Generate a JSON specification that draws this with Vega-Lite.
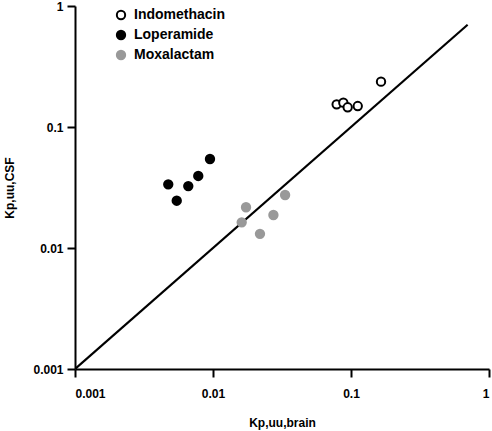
{
  "$schema": "https://vega.github.io/schema/vega-lite/v6.json",
  "width": 414,
  "height": 363,
  "autosize": "none",
  "padding": {"left": 75, "top": 6, "right": 3, "bottom": 62},
  "background": "white",
  "config": {
    "view": {"stroke": null},
    "font": "Liberation Sans",
    "axis": {
      "domainColor": "black", "domainWidth": 2, "tickColor": "black", "tickWidth": 2, "tickSize": 8,
      "labelFont": "Liberation Sans", "labelFontWeight": "bold", "labelFontSize": 12, "labelColor": "black",
      "titleFont": "Liberation Sans", "titleFontWeight": "bold", "titleFontSize": 12, "titleColor": "black",
      "grid": false
    }
  },
  "datasets": {
    "pts": [
      {"compound": "Indomethacin", "brain": 0.0787, "csf": 0.154},
      {"compound": "Indomethacin", "brain": 0.088, "csf": 0.159},
      {"compound": "Indomethacin", "brain": 0.0946, "csf": 0.1455},
      {"compound": "Indomethacin", "brain": 0.1119, "csf": 0.149},
      {"compound": "Indomethacin", "brain": 0.165, "csf": 0.237},
      {"compound": "Loperamide", "brain": 0.00474, "csf": 0.0336},
      {"compound": "Loperamide", "brain": 0.00546, "csf": 0.0246},
      {"compound": "Loperamide", "brain": 0.00662, "csf": 0.0325},
      {"compound": "Loperamide", "brain": 0.00782, "csf": 0.0394},
      {"compound": "Loperamide", "brain": 0.00951, "csf": 0.0544},
      {"compound": "Moxalactam", "brain": 0.01735, "csf": 0.0217},
      {"compound": "Moxalactam", "brain": 0.01614, "csf": 0.0163},
      {"compound": "Moxalactam", "brain": 0.0219, "csf": 0.0131},
      {"compound": "Moxalactam", "brain": 0.0274, "csf": 0.01875},
      {"compound": "Moxalactam", "brain": 0.0333, "csf": 0.0274}
    ],
    "line": [
      {"brain": 0.001, "csf": 0.001},
      {"brain": 0.7, "csf": 0.7}
    ]
  },
  "layer": [
    {
      "data": {"name": "line"},
      "mark": {"type": "line", "color": "black", "strokeWidth": 2.2, "clip": true},
      "encoding": {
        "x": {"field": "brain", "type": "quantitative"},
        "y": {"field": "csf", "type": "quantitative"}
      }
    },
    {
      "data": {"name": "pts"},
      "mark": {"type": "point", "shape": "circle", "size": 70, "strokeWidth": 2, "opacity": 1, "filled": false},
      "encoding": {
        "x": {
          "field": "brain", "type": "quantitative",
          "scale": {"type": "log", "domain": [0.001, 1], "nice": false},
          "axis": {"values": [0.001, 0.01, 0.1, 1], "format": "~g", "title": "Kp,uu,brain", "labelPadding": 11, "titlePadding": 18, "titleFontSize": 12}
        },
        "y": {
          "field": "csf", "type": "quantitative",
          "scale": {"type": "log", "domain": [0.001, 1], "nice": false},
          "axis": {"values": [0.001, 0.01, 0.1, 1], "format": "~g", "title": "Kp,uu,CSF", "labelPadding": 4, "titlePadding": 16, "titleFontSize": 12}
        },
        "fill": {
          "field": "compound", "type": "nominal",
          "scale": {"domain": ["Indomethacin", "Loperamide", "Moxalactam"], "range": ["white", "black", "#999999"]},
          "legend": {
            "title": null, "orient": "none", "legendX": 39, "legendY": 2,
            "labelFont": "Liberation Sans", "labelFontWeight": "bold", "labelFontSize": 14, "labelColor": "black",
            "symbolSize": 70, "symbolStrokeWidth": 2, "rowPadding": 2, "labelOffset": 6
          }
        },
        "stroke": {
          "field": "compound", "type": "nominal",
          "scale": {"domain": ["Indomethacin", "Loperamide", "Moxalactam"], "range": ["black", "black", "#999999"]},
          "legend": {
            "title": null, "orient": "none", "legendX": 39, "legendY": 2,
            "labelFont": "Liberation Sans", "labelFontWeight": "bold", "labelFontSize": 14, "labelColor": "black",
            "symbolSize": 70, "symbolStrokeWidth": 2, "rowPadding": 2, "labelOffset": 6
          }
        }
      }
    }
  ]
}
